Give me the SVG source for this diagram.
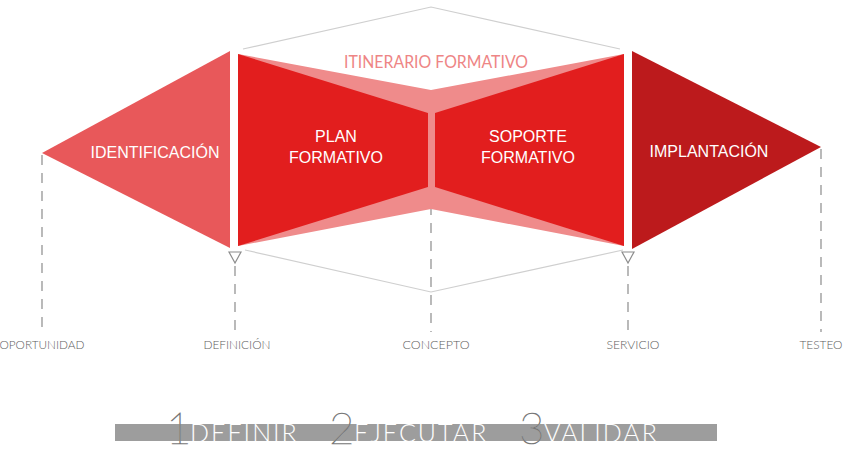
<svg xmlns="http://www.w3.org/2000/svg" width="843" height="454" viewBox="0 0 843 454">
<style>
.node-label{font-family:"Liberation Sans",Arial,sans-serif;font-size:16px;fill:#ffffff;text-anchor:middle}
.axis-label{font-family:Lato,"Liberation Sans",sans-serif;font-weight:300;font-size:11.5px;fill:#5e5e5e;text-anchor:middle}
.dash{stroke:#8c8c8c;stroke-width:1.2;stroke-dasharray:10 8;fill:none}
.outline{stroke:#cfcfcf;stroke-width:1.2;fill:none}
.marker{fill:#fff;stroke:#8c8c8c;stroke-width:1.2}
.step{font-family:Lato,"Liberation Sans",sans-serif}
.step-word{font-weight:300;font-size:25px;fill:#fff;letter-spacing:2px}
.step-num{font-weight:100;font-size:44px;fill:#fff;stroke:#777;stroke-width:0.7;letter-spacing:0}
</style>
<rect width="843" height="454" fill="#ffffff"/>
<g id="connectors">
  <polyline class="outline" points="243,49 431,7 620,49"/>
  <polyline class="outline" points="245,250 431,292 623,250"/>
  <line class="dash" x1="42" y1="155" x2="42" y2="332"/>
  <line class="dash" x1="235" y1="266" x2="235" y2="332"/>
  <line class="dash" x1="431" y1="205" x2="431" y2="332"/>
  <line class="dash" x1="628" y1="266" x2="628" y2="332"/>
  <line class="dash" x1="821" y1="149" x2="821" y2="332"/>
  <polygon class="marker" points="229,252 241,252 235,263"/>
  <polygon class="marker" points="425,190 437,190 431,201"/>
  <polygon class="marker" points="622,252 634,252 628,263"/>
</g>
<g id="itinerario">
  <polygon points="238,54 431,90 624,54 624,246 431,209 238,246" fill="#ef8b8b"/>
  <text x="436" y="68" font-family="Lato,'Liberation Sans',sans-serif" font-weight="400" font-size="17" fill="#ee8585" text-anchor="middle" textLength="184" lengthAdjust="spacingAndGlyphs">ITINERARIO FORMATIVO</text>
</g>
<g id="identificacion">
  <polygon points="42,153 230,51 230,248" fill="#e8585a"/>
  <text class="node-label" x="155" y="158">IDENTIFICACIÓN</text>
</g>
<g id="plan-formativo">
  <polygon points="238,54 428,113 428,187 238,246" fill="#e21e1e"/>
  <text class="node-label" x="336" y="142">PLAN</text>
  <text class="node-label" x="336" y="163">FORMATIVO</text>
</g>
<g id="soporte-formativo">
  <polygon points="435,113 624,54 624,246 435,187" fill="#e21e1e"/>
  <text class="node-label" x="528" y="142">SOPORTE</text>
  <text class="node-label" x="528" y="163">FORMATIVO</text>
</g>
<g id="implantacion">
  <polygon points="632,51 821,147 632,249" fill="#bc1a1c"/>
  <text class="node-label" x="709" y="157">IMPLANTACIÓN</text>
</g>
<g id="axis-labels">
  <text class="axis-label" x="42" y="349" textLength="85" lengthAdjust="spacingAndGlyphs">OPORTUNIDAD</text>
  <text class="axis-label" x="237" y="349" textLength="67" lengthAdjust="spacingAndGlyphs">DEFINICIÓN</text>
  <text class="axis-label" x="436" y="349" textLength="67" lengthAdjust="spacingAndGlyphs">CONCEPTO</text>
  <text class="axis-label" x="633" y="349" textLength="53" lengthAdjust="spacingAndGlyphs">SERVICIO</text>
  <text class="axis-label" x="821" y="349" textLength="43" lengthAdjust="spacingAndGlyphs">TESTEO</text>
</g>
<g id="steps">
  <rect x="115" y="424" width="602" height="17" fill="#9d9d9d"/>
  <text class="step" y="442"><tspan class="step-num" x="166" y="444">1</tspan><tspan class="step-word" x="190" y="442">DEFINIR</tspan></text>
  <text class="step" y="442"><tspan class="step-num" x="329" y="444">2</tspan><tspan class="step-word" x="354" y="442">EJECUTAR</tspan></text>
  <text class="step" y="442"><tspan class="step-num" x="519" y="444">3</tspan><tspan class="step-word" x="544" y="442">VALIDAR</tspan></text>
</g>
</svg>
